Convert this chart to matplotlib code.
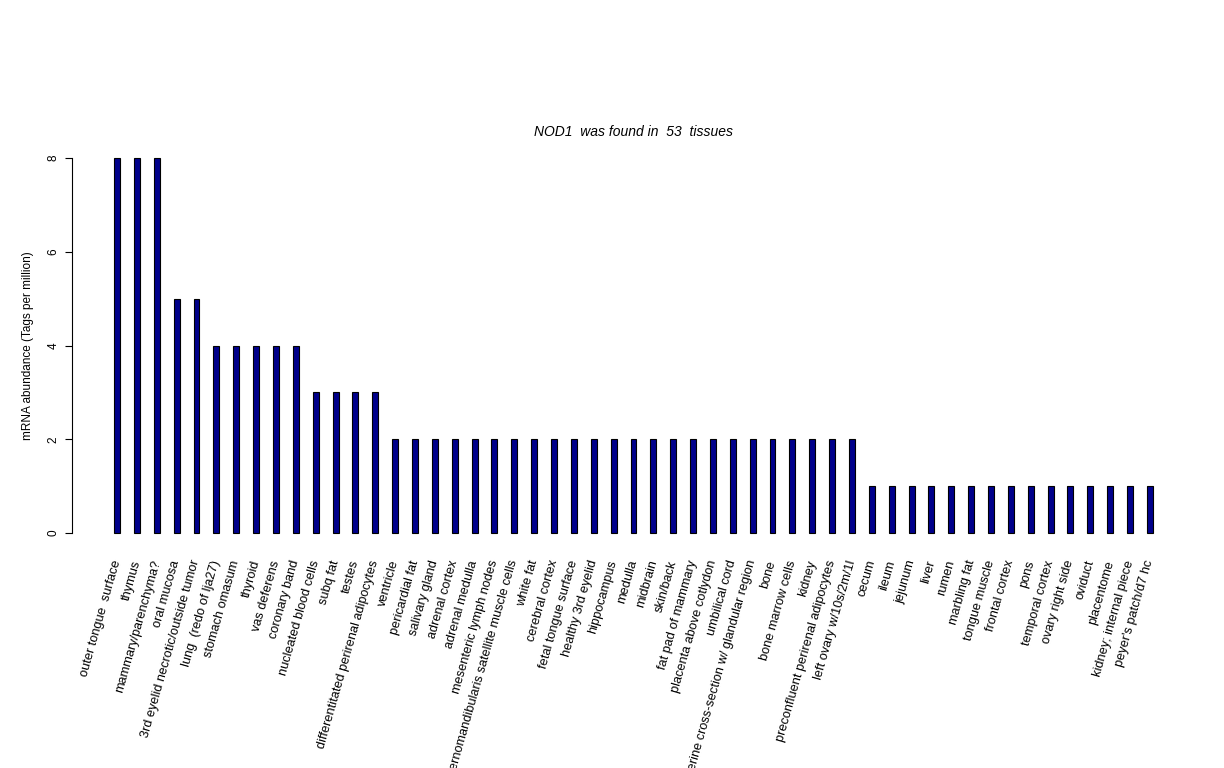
import matplotlib
matplotlib.use("Agg")
import matplotlib.pyplot as plt

tissues = [
    "outer tongue  surface", "thymus", "mammary/parenchyma?", "oral mucosa",
    "3rd eyelid necrotic/outside tumor", "lung  (redo of lja27)", "stomach omasum",
    "thyroid", "vas deferens", "coronary band", "nucleated blood cells", "subq fat",
    "testes", "differentitated perirenal adipocytes", "ventricle", "pericardial fat",
    "salivary gland", "adrenal cortex", "adrenal medulla", "mesenteric lymph nodes",
    "sternomandibularis satellite muscle cells", "white fat", "cerebral cortex",
    "fetal tongue surface", "healthy 3rd eyelid", "hippocampus", "medulla", "midbrain",
    "skin/back", "fat pad of mammary", "placenta above cotlydon", "umbilical cord",
    "uterine cross-section w/ glandular region", "bone", "bone marrow cells", "kidney",
    "preconfluent perirenal adipocytes", "left ovary w/10s/2m/1l", "cecum", "ileum",
    "jejunum", "liver", "rumen", "marbling fat", "tongue muscle", "frontal cortex",
    "pons", "temporal cortex", "ovary right side", "oviduct", "placentome",
    "kidney; internal piece", "peyer's patch/d7 hc",
]
tpm = [8, 8, 8, 5, 5, 4, 4, 4, 4, 4, 3, 3, 3, 3] + [2] * 24 + [1] * 15
yticks = [0, 2, 4, 6, 8]

plt.rcParams["font.family"] = ["Liberation Sans", "DejaVu Sans"]

fig = plt.figure(figsize=(12.24, 7.68), dpi=100)
ax = fig.add_axes([0.0588, 0.2865, 0.9175, 0.527])

x = list(range(len(tissues)))
ax.bar(x, tpm, width=0.3, color="#00008B", edgecolor="black", linewidth=0.8)

ax.set_xlim(-2.27, len(tissues) - 1 + 2.27)
ax.set_ylim(-0.32, 8.32)

for s in ["top", "right", "bottom"]:
    ax.spines[s].set_visible(False)
ax.spines["left"].set_bounds(0, 8)
ax.spines["left"].set_linewidth(0.8)

ax.set_yticks(yticks)
ax.set_yticklabels([str(v) for v in yticks], rotation=90, va="center", fontsize=8.5)
ax.tick_params(axis="y", length=5, width=0.8, pad=4)

ax.set_xticks(x)
ax.set_xticklabels(tissues, rotation=74, rotation_mode="anchor",
                   ha="right", va="center", fontsize=9.2)
ax.tick_params(axis="x", length=0, pad=9)

ax.set_ylabel("mRNA abundance (Tags per million)", fontsize=8.5, labelpad=10)
ax.set_title("NOD1  was found in  53  tissues", fontsize=10, style="italic", pad=5)

fig.savefig("out.png", dpi=100, facecolor="white")
